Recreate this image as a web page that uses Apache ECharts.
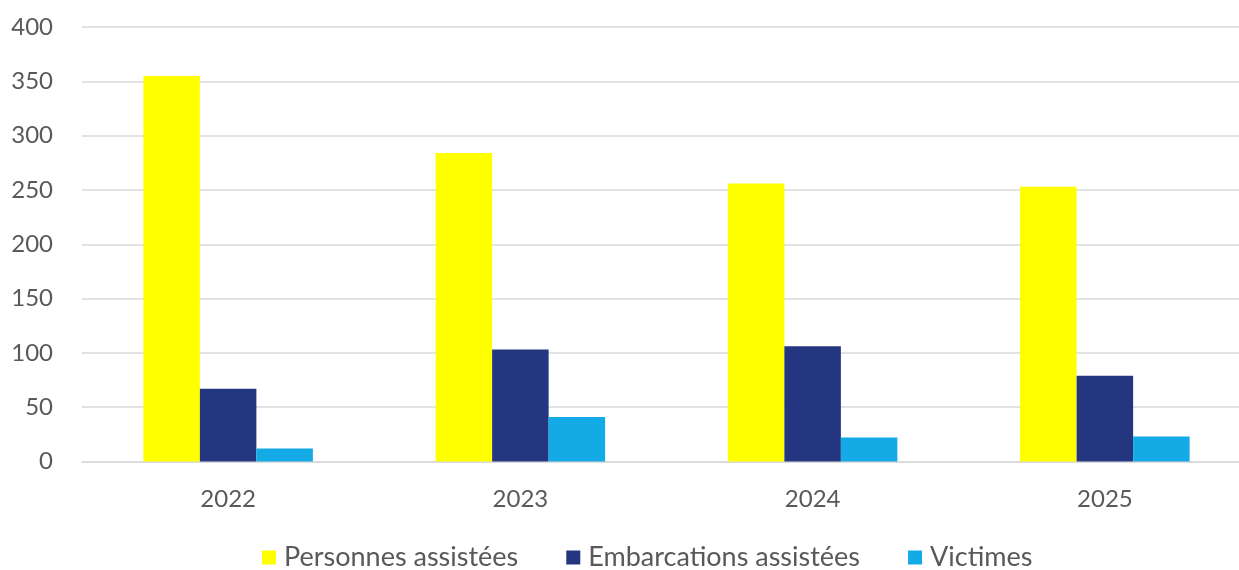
<!DOCTYPE html>
<html>
<head>
<meta charset="utf-8">
<script src="https://cdn.jsdelivr.net/npm/echarts@6/dist/echarts.min.js"></script>
<style>
html,body{margin:0;padding:0;background:#fff;}
#c{width:1239px;height:570px;}
</style>
</head>
<body>
<div id="c"></div>
<script>
const categories = ['2022', '2023', '2024', '2025'];
const personnes = [355, 284, 256, 253];
const embarcations = [67, 103, 106, 79];
const victimes = [12, 41, 22, 23];
const seriesNames = ['Personnes assistées', 'Embarcations assistées', 'Victimes'];
const colors = ['#FFFF00', '#243680', '#14AAE6'];

const font = 'Lato, "Open Sans", sans-serif';
const chart = echarts.init(document.getElementById('c'), null, {renderer: 'canvas'});
chart.setOption({
  animation: false,
  color: colors,
  grid: {left: 82, right: -12, top: 27, bottom: 108.5, containLabel: false, outerBoundsMode: 'none'},
  legend: {
    top: 539,
    left: 257,
    itemWidth: 14,
    itemHeight: 14,
    itemGap: 48,
    icon: 'rect',
    textStyle: {color: '#595959', fontSize: 27, fontFamily: font, padding: [0, 0, 0, 3]},
    data: seriesNames
  },
  xAxis: {
    type: 'category',
    data: categories,
    axisLine: {lineStyle: {color: '#d9d9d9', width: 1.5}},
    axisTick: {show: false},
    axisLabel: {color: '#595959', fontSize: 24, fontFamily: font, margin: 26}
  },
  yAxis: {
    type: 'value',
    min: 0, max: 400, interval: 50,
    axisLine: {show: false},
    axisTick: {show: false},
    splitLine: {lineStyle: {color: '#d9d9d9', width: 1.5}},
    axisLabel: {color: '#595959', fontSize: 24, fontFamily: font, margin: 29}
  },
  series: [
    {name: seriesNames[0], type: 'bar', data: personnes, barGap: '0%', barCategoryGap: '42%'},
    {name: seriesNames[1], type: 'bar', data: embarcations, barGap: '0%', barCategoryGap: '42%'},
    {name: seriesNames[2], type: 'bar', data: victimes, barGap: '0%', barCategoryGap: '42%'}
  ]
});
</script>
</body>
</html>
